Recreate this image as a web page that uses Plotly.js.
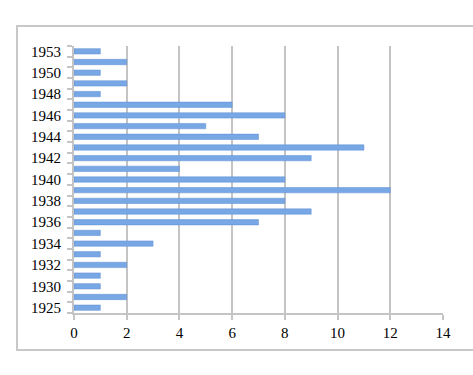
<!DOCTYPE html>
<html>
<head>
<meta charset="utf-8">
<script src="https://cdn.plot.ly/plotly-3.0.1.min.js"></script>
<style>html,body{margin:0;padding:0;background:#fff;}#chart{width:473px;height:375px;}</style>
</head>
<body>
<div id="chart"></div>
<script>
// Categories bottom to top
const years = ["1925","1929","1930","1931","1932","1933","1934","1935","1936","1937","1938","1939","1940","1941","1942","1943","1944","1945","1946","1947","1948","1949","1950","1952","1953"];
const counts = [1,2,1,1,2,1,3,1,7,9,8,12,8,4,9,11,7,5,8,6,1,2,1,2,1];
const shownLabels = ["1925","1930","1932","1934","1936","1938","1940","1942","1944","1946","1948","1950","1953"];
const tickText = years.map(y => shownLabels.includes(y) ? y : "");

const font = {family: "Liberation Serif, Times New Roman, serif", size: 15, color: "#000"};

const trace = {
  type: "bar",
  orientation: "h",
  x: counts,
  y: years,
  marker: {color: "#78a7e5", line: {color: "#5f8fd3", width: 0.5}},
  hoverinfo: "x+y"
};

const L = 74, R = 443, T = 46, B = 313;
const pw = R - L, ph = B - T;

const layout = {
  width: 473, height: 375,
  margin: {l: L, r: 473 - R, t: T, b: 375 - B},
  paper_bgcolor: "#fff", plot_bgcolor: "#fff",
  showlegend: false,
  bargap: 0.5,
  font: font,
  xaxis: {
    range: [0, 14], dtick: 2, tick0: 0,
    showgrid: true, gridcolor: "#c4c4c4", gridwidth: 2,
    showline: true, linecolor: "#c4c4c4", linewidth: 2,
    ticks: "outside", ticklen: 5, tickcolor: "#c4c4c4", tickwidth: 2,
    tickfont: font, zeroline: false, fixedrange: true
  },
  yaxis: {
    type: "category",
    categoryorder: "array", categoryarray: years,
    tickmode: "array", tickvals: years, ticktext: tickText,
    tickson: "boundaries",
    showgrid: false,
    showline: true, linecolor: "#c4c4c4", linewidth: 2,
    ticks: "outside", ticklen: 5, tickcolor: "#c4c4c4", tickwidth: 2,
    ticklabelstandoff: 8,
    tickfont: font, zeroline: false, fixedrange: true,
    range: [-0.5, years.length - 0.5]
  },
  shapes: [{
    type: "rect", xref: "paper", yref: "paper",
    x0: (17 - L) / pw, x1: (490 - L) / pw,
    y0: (B - 350) / ph, y1: (B - 26) / ph,
    line: {color: "#c8c8c8", width: 2}, fillcolor: "rgba(0,0,0,0)", layer: "below"
  }]
};

Plotly.newPlot("chart", [trace], layout, {displayModeBar: false, staticPlot: true});
</script>
</body>
</html>
